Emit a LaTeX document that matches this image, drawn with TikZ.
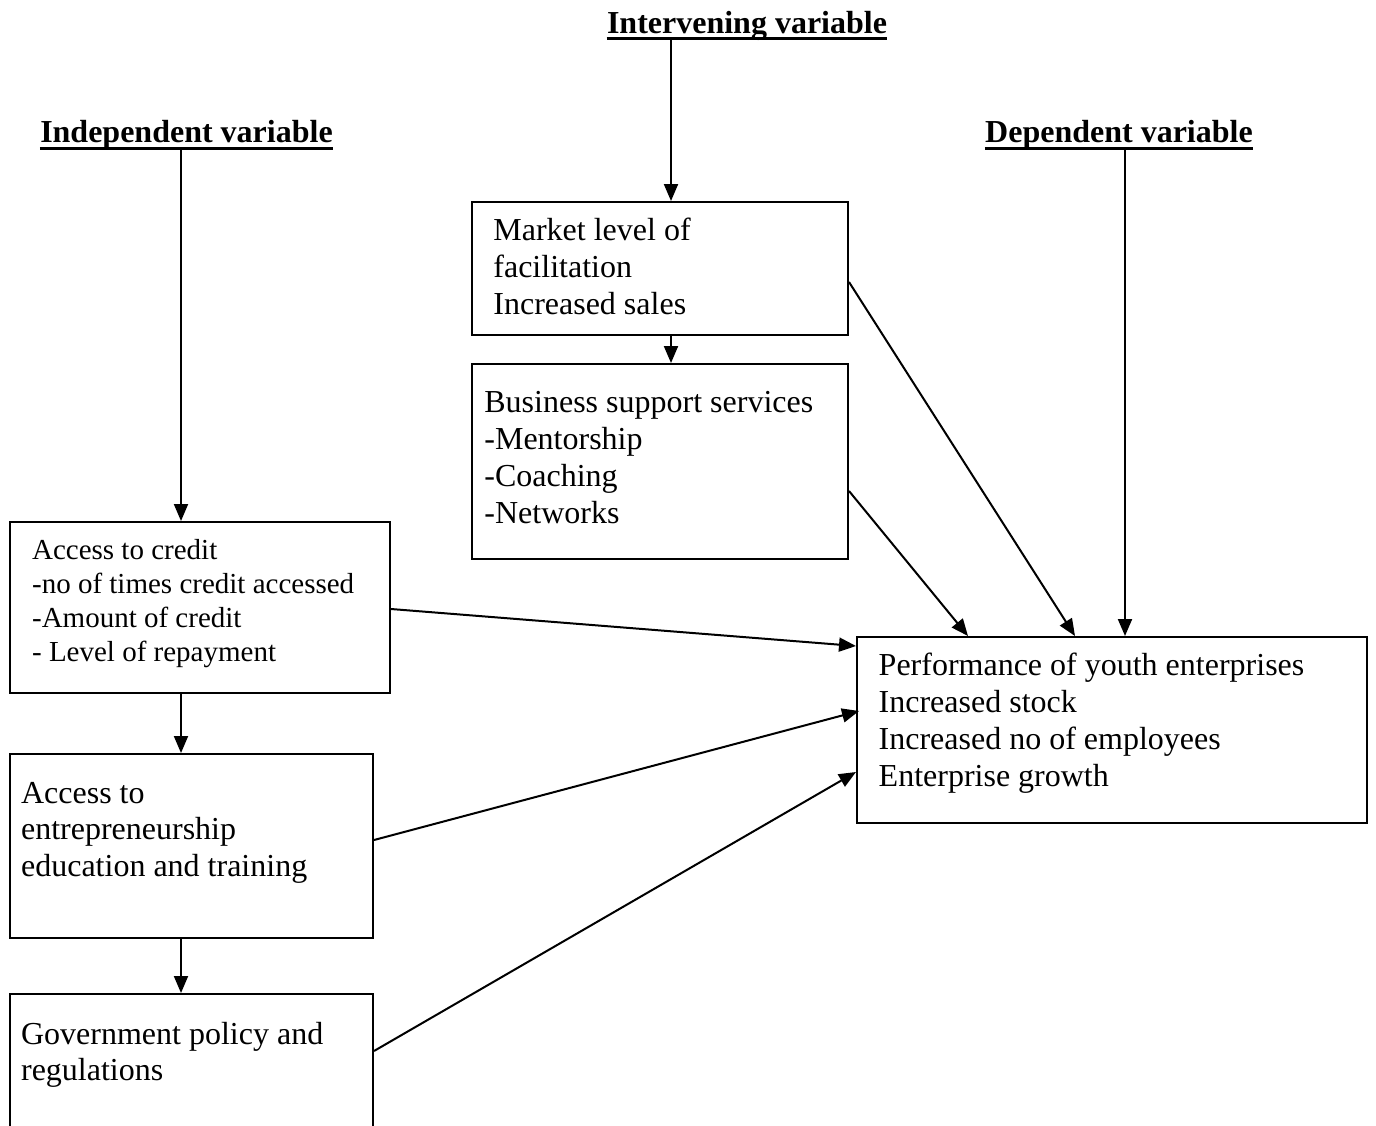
\documentclass[tikz,border=0pt]{standalone}
\usepackage{fontspec}
\setmainfont{Liberation Serif}
\usetikzlibrary{arrows.meta,calc,fit}
\begin{document}
\begin{tikzpicture}[x=0.5pt,y=-0.5pt,
  box/.style={draw,line width=1pt,inner sep=0pt,rectangle},
  txt/.style={anchor=base west,align=left,inner sep=0pt,font=\fontsize{16}{18.4}\selectfont},
  smalltxt/.style={txt,font=\fontsize{14.5}{17.1}\selectfont},
  title/.style={anchor=base,inner sep=0pt,font=\fontsize{16}{18}\selectfont\bfseries},
  ul/.style={line width=1.7pt},
  arr/.style={line width=1pt,-{Triangle[length=8.5pt,width=7pt]}}]
\useasboundingbox (0,0) rectangle (1376,1125);
\clip (0,0) rectangle (1376,1125);

% titles
\node[title] (inttitle) at (747,33) {Intervening variable};
\node[title] (indtitle) at (186.5,142.7) {Independent variable};
\node[title] (deptitle) at (1119,142.7) {Dependent variable};
\draw[ul] ($(inttitle.base west)+(0,5.5)$) coordinate (intul) -- ($(inttitle.base east)+(0,5.5)$);
\draw[ul] ($(indtitle.base west)+(0,6)$) coordinate (indul) -- ($(indtitle.base east)+(0,6)$);
\draw[ul] ($(deptitle.base west)+(0,6)$) coordinate (depul) -- ($(deptitle.base east)+(0,6)$);

% boxes
\node[box,fit={(472,202) (848,335)}] (market) {};
\node[box,fit={(472,364) (848,559)}] (business) {};
\node[box,fit={(10,522) (390,693)}] (credit) {};
\node[box,fit={(10,754) (373,938)}] (educ) {};
\node[box,fit={(10,994) (373,1140)}] (gov) {};
\node[box,fit={(857,637) (1367,823)}] (perf) {};

% texts (anchored at the baseline of the last line)
\node[txt] (markettxt) at (493,314) {Market level of\\facilitation\\Increased sales};
\node[txt] (businesstxt) at (484,523.3) {Business support services\\-Mentorship\\-Coaching\\-Networks};
\node[smalltxt] (credittxt) at (31.7,661.7) {Access to credit\\-no of times credit accessed\\-Amount of credit\\- Level of repayment};
\node[txt] (eductxt) at (20.7,876.7) {Access to\\entrepreneurship\\education and training};
\node[txt,font=\fontsize{16}{18}\selectfont] (govtxt) at (20.7,1080) {Government policy and\\regulations};
\node[txt,font=\fontsize{16}{18.6}\selectfont] (perftxt) at (878.3,786.7) {Performance of youth enterprises\\Increased stock\\Increased no of employees\\Enterprise growth};

% vertical connectors
\coordinate (xi) at (181,0);
\coordinate (xm) at (671,0);
\coordinate (xd) at (1125,0);
\draw[arr] (xm |- intul) -- (xm |- market.north);
\draw[arr] (xm |- market.south) -- (xm |- business.north);
\draw[arr] (xi |- indul) -- (xi |- credit.north);
\draw[arr] (xi |- credit.south) -- (xi |- educ.north);
\draw[arr] (xi |- educ.south) -- (xi |- gov.north);
\draw[arr] (xd |- depul) -- (xd |- perf.north);

% diagonal connectors
\draw[arr] ($(market.north east)+(0,81)$) -- ($(perf.north west)+(219,0)$);
\draw[arr] ($(business.north east)+(0,128)$) -- ($(perf.north west)+(112,0)$);
\draw[arr] ($(credit.north east)+(0,88)$) -- ($(perf.north west)+(0,10)$);
\draw[arr] ($(educ.north east)+(0,87)$) -- ($(perf.north west)+(3,75)$);
\draw[arr] ($(gov.north east)+(0,58)$) -- ($(perf.north west)+(0,136)$);
\end{tikzpicture}
\end{document}
